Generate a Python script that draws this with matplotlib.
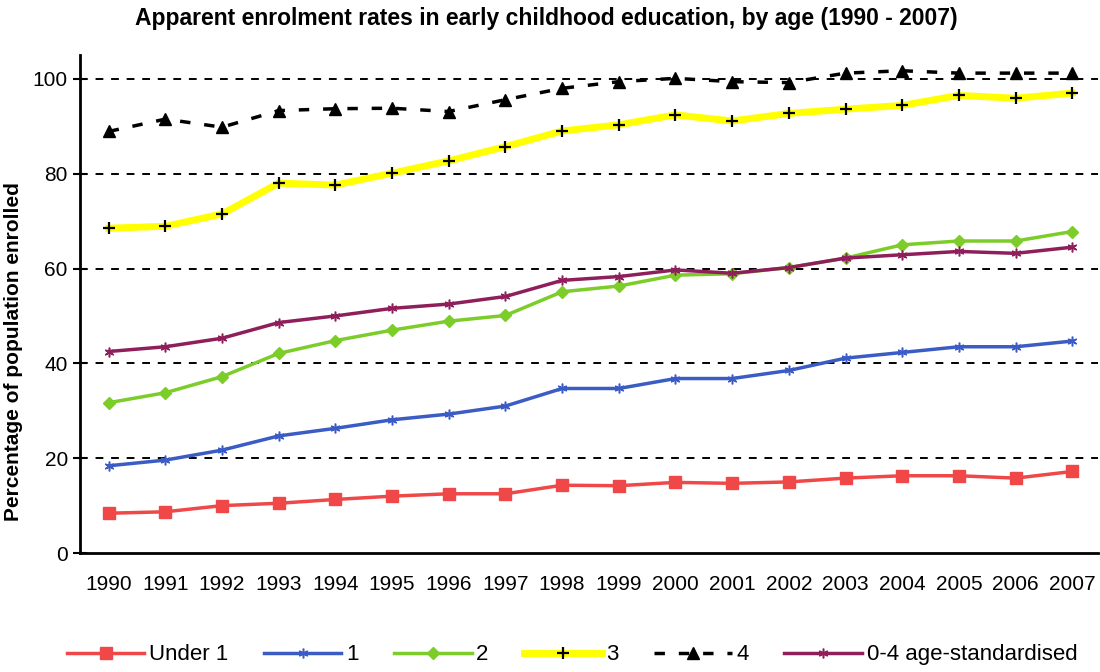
import numpy as np
import matplotlib.pyplot as plt

plt.rcParams['font.family'] = ['Liberation Sans', 'DejaVu Sans']

years = list(range(1990, 2008))
under1 = [8.4, 8.7, 10.0, 10.5, 11.3, 12.0, 12.5, 12.5, 14.3, 14.2,
          14.9, 14.7, 15.0, 15.8, 16.3, 16.3, 15.8, 17.2]
age1 = [18.4, 19.6, 21.7, 24.7, 26.3, 28.1, 29.3, 31.0, 34.7, 34.7,
        36.8, 36.8, 38.5, 41.1, 42.3, 43.5, 43.5, 44.7]
age2 = [31.7, 33.8, 37.2, 42.1, 44.8, 47.0, 48.9, 50.1, 55.1, 56.3,
        58.6, 58.9, 60.2, 62.2, 65.0, 65.8, 65.8, 67.8]
age3 = [68.5, 68.9, 71.5, 78.0, 77.6, 80.1, 82.7, 85.7, 89.0, 90.3,
        92.4, 91.1, 92.7, 93.6, 94.4, 96.5, 95.9, 97.0]
age4 = [88.9, 91.5, 89.8, 93.3, 93.7, 93.8, 93.1, 95.6, 98.0, 99.4,
        100.1, 99.4, 99.2, 101.2, 101.7, 101.2, 101.2, 101.2]
std04 = [42.5, 43.5, 45.3, 48.6, 50.0, 51.6, 52.5, 54.1, 57.5, 58.3,
         59.7, 59.0, 60.2, 62.2, 62.9, 63.6, 63.2, 64.5]

fig = plt.figure(figsize=(11, 6.72), dpi=100)
ax = fig.add_axes([0.073, 0.177, 0.925, 0.741])

for y in [20, 40, 60, 80, 100]:
    ax.axhline(y, color='black', lw=1.4, ls=(0, (4, 4)), zorder=1)

ax.plot(years, under1, color='#f04848', lw=2.5, marker='s', ms=9,
        label='Under 1', zorder=3)
ax.plot(years, age1, color='#3a5cc4', lw=2.5, marker=(6, 2, 0), ms=7,
        mew=1.1, label='1', zorder=3)
ax.plot(years, age2, color='#7ccc2a', lw=2.5, marker='D', ms=6,
        label='2', zorder=3)
ax.plot(years, age3, color='#ffff00', lw=5, marker='+', ms=9, mew=1.6,
        mec='black', label='3', zorder=3)
ax.plot(years, age4, color='black', lw=2.5, ls=(0, (3, 4)), marker='^',
        ms=9, label='4', zorder=3)
ax.plot(years, std04, color='#8e1f5a', lw=2.5, marker=(6, 2, 0), ms=7,
        mew=1.1, label='0-4 age-standardised', zorder=3)

ax.set_xlim(1989.5, 2007.45)
ax.set_ylim(0, 105)
ax.set_xticks(years)
ax.set_yticks([0, 20, 40, 60, 80, 100])
ax.tick_params(axis='x', length=0, labelsize=15, pad=16)
ax.tick_params(axis='y', direction='inout', length=10, width=1.5,
               labelsize=15, pad=4)
for s in ['top', 'right']:
    ax.spines[s].set_visible(False)
ax.spines['left'].set_linewidth(2)
ax.spines['bottom'].set_linewidth(2)

ax.set_ylabel('Percentage of population enrolled', fontsize=15,
              fontweight='bold')
ax.yaxis.set_label_coords(-0.056, 0.405)
fig.suptitle('Apparent enrolment rates in early childhood education, by age (1990 - 2007)',
             x=0.497, y=0.99, fontsize=16.5, fontweight='bold')

fig.legend(loc='lower center', bbox_to_anchor=(0.52, -0.02), ncol=6,
           frameon=False, fontsize=16, handlelength=3.5, columnspacing=1.6,
           handletextpad=0.2)

fig.savefig('out.png', dpi=100)
